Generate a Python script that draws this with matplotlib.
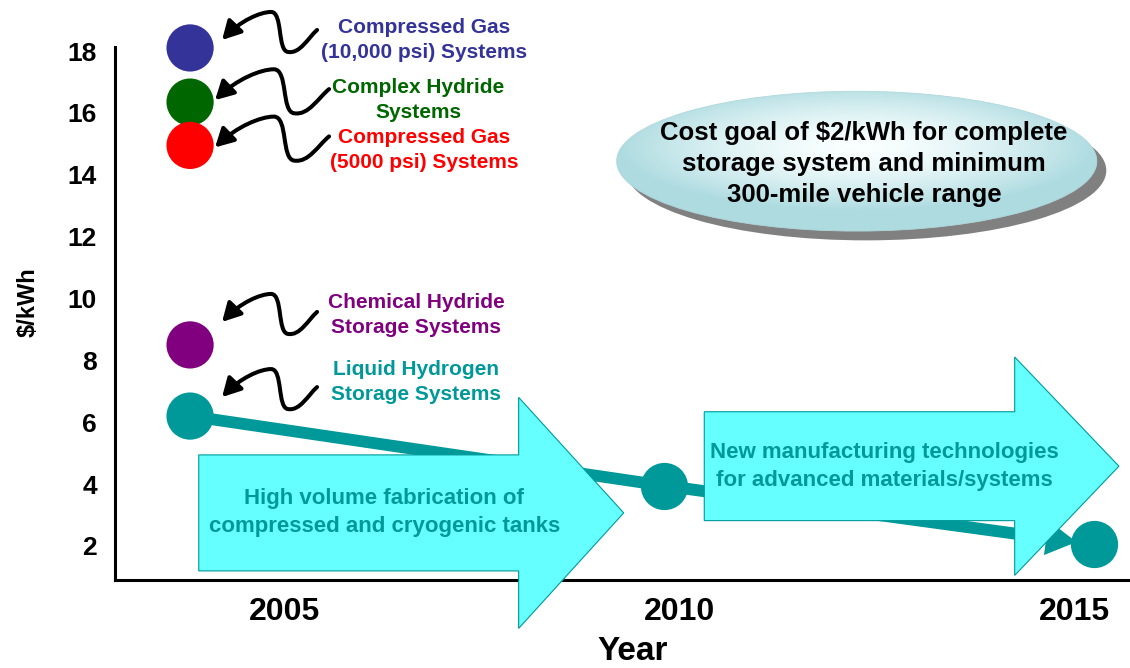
import numpy as np
import matplotlib.pyplot as plt
from matplotlib.patches import Ellipse, Polygon, FancyArrowPatch
from matplotlib.path import Path
from matplotlib.transforms import IdentityTransform

plt.rcParams['font.family'] = ['Liberation Sans', 'DejaVu Sans']
plt.rcParams['font.weight'] = 'bold'
plt.rcParams['axes.labelweight'] = 'bold'

# cost status of each storage technology ($/kWh)
systems = ['Compressed Gas\n(10,000 psi) Systems', 'Complex Hydride\nSystems',
           'Compressed Gas\n(5000 psi) Systems', 'Chemical Hydride\nStorage Systems',
           'Liquid Hydrogen\nStorage Systems']
system_year = [2003.8, 2003.8, 2003.8, 2003.8, 2003.8]
system_cost = [18.1, 16.35, 14.95, 8.5, 6.2]

# liquid hydrogen path towards the goal
path_year = [2003.8, 2009.8, 2015.25]
path_cost = [6.2, 3.95, 2.05]

year_ticks = [2005, 2010, 2015]
cost_ticks = [2, 4, 6, 8, 10, 12, 14, 16, 18]

colors = ['#333399', '#006600', '#ff0000', '#800080', '#009999']
teal = '#009999'
cyan = '#66ffff'

# label placement in pixels relative to each marker (x right, y down)
label_off = [(234, -8), (228, -2), (234, 5), (226, -30), (226, -34)]
tip_off = [(32, -8), (25, -2), (25, 2), (32, -23), (32, -19)]
curl_scale = [(1.0, 1.0), (1.2, 1.1), (1.2, 1.1), (1.0, 1.0), (1.0, 1.0)]

fig = plt.figure(figsize=(11.3, 6.68), dpi=100)
ax = fig.add_axes([0.1018, 0.1317, 0.8982, 0.7979])
xlim = (2002.85, 2015.7)
ylim = (0.9, 18.13)
ax.set_xlim(*xlim)
ax.set_ylim(*ylim)

for s in ['top', 'right']:
    ax.spines[s].set_visible(False)
for s in ['left', 'bottom']:
    ax.spines[s].set_linewidth(2.2)
ax.set_xticks(year_ticks)
ax.set_yticks(cost_ticks)
ax.tick_params(length=0)
ax.tick_params(axis='x', labelsize=23, pad=12)
ax.tick_params(axis='y', labelsize=19, pad=13)
ax.set_xlabel('Year', fontsize=24, fontweight='bold', va='center')
ax.xaxis.set_label_coords(0.51, -0.135)
ax.set_ylabel('$/kWh', fontsize=17, fontweight='bold', va='center')
ax.yaxis.set_label_coords(-0.0857, 0.522)

# liquid hydrogen cost path
ax.plot(path_year[:2], path_cost[:2], color=teal, lw=8.5, solid_capstyle='butt', zorder=2)
ax.annotate('', xy=(path_year[2], path_cost[2]), xytext=(path_year[1], path_cost[1]),
            arrowprops=dict(arrowstyle='simple,head_length=1.1,head_width=1.25,tail_width=0.43',
                            mutation_scale=20, color=teal, lw=0, shrinkA=0, shrinkB=13),
            zorder=2)


def block_arrow(x0, xh, xt, yc, body, head, text):
    pts = [(x0, yc - body), (xh, yc - body), (xh, yc - head), (xt, yc),
           (xh, yc + head), (xh, yc + body), (x0, yc + body)]
    ax.add_patch(Polygon(pts, closed=True, facecolor=cyan, edgecolor=teal, lw=0.8,
                         zorder=3, clip_on=False))
    ax.text(x0 + (xh - x0) * 0.58, yc, text, ha='center', va='center', color=teal,
            fontsize=16, linespacing=1.45, zorder=4)


block_arrow(2003.91, 2007.96, 2009.29, 3.07, 1.875, 3.735,
            'High volume fabrication of\ncompressed and cryogenic tanks')
block_arrow(2010.31, 2014.24, 2015.56, 4.58, 1.76, 3.53,
            'New manufacturing technologies\nfor advanced materials/systems')

# goal bubble with shadow and soft gradient
ecx, ecy, ew, eh = 2012.24, 14.44, 6.08, 4.52
ax.add_patch(Ellipse((ecx + 0.12, ecy - 0.3), ew, eh, facecolor='#808080', lw=0, zorder=3))
bubble = Ellipse((ecx, ecy), ew, eh, facecolor='none', edgecolor='#b0d8dc', lw=0.6, zorder=3.2)
ax.add_patch(bubble)
gx, gy = np.meshgrid(np.linspace(-1, 1, 300), np.linspace(-1, 1, 200))
t = np.clip(np.hypot(gx, (gy - 0.2) * 1.1), 0, 1) ** 1.6
edge = np.array([0.68, 0.86, 0.88])
rgb = (1 - t)[..., None] * np.array([0.98, 1.0, 1.0]) + t[..., None] * edge
img = ax.imshow(rgb, extent=(ecx - ew / 2, ecx + ew / 2, ecy - eh / 2, ecy + eh / 2),
                origin='lower', aspect='auto', zorder=3.1, interpolation='bilinear')
img.set_clip_path(bubble)
ax.text(ecx + 0.09, ecy - 0.09,
        'Cost goal of $2/kWh for complete\nstorage system and minimum\n300-mile vehicle range',
        ha='center', va='center', fontsize=18.5, linespacing=1.35, color='black', zorder=4)

ax.set_xlim(*xlim)
ax.set_ylim(*ylim)

# markers
ax.scatter(system_year, system_cost, s=34 ** 2, c=colors, lw=0, zorder=5, clip_on=False)
ax.plot(path_year[1:], path_cost[1:], 'o', ms=34, color=teal, mew=0, zorder=5, clip_on=False)

# curly pointers and labels
curl = [(95, -10), (86, -2), (78, 14), (66, 12),
        (55, 11), (61, -28), (49, -28),
        (38, -28), (18, -19), (0, 0)]
codes = [Path.MOVETO] + [Path.CURVE4] * 9
for i, name in enumerate(systems):
    x, y = system_year[i], system_cost[i]
    ax.annotate(name, xy=(x, y), xytext=(label_off[i][0], -label_off[i][1]),
                textcoords='offset pixels', ha='center', va='center',
                color=colors[i], fontsize=15, linespacing=1.4)
    cx, cy = ax.transData.transform((x, y))
    tx, ty = cx + tip_off[i][0], cy - tip_off[i][1]
    sx, sy = curl_scale[i]
    verts = [(tx + sx * px, ty - sy * py) for px, py in curl]
    fig.add_artist(FancyArrowPatch(path=Path(verts, codes),
                                   arrowstyle='-|>,head_length=1.1,head_width=0.6',
                                   mutation_scale=10, lw=2.9, color='black',
                                   transform=IdentityTransform()))

fig.savefig('out.png', dpi=100)
